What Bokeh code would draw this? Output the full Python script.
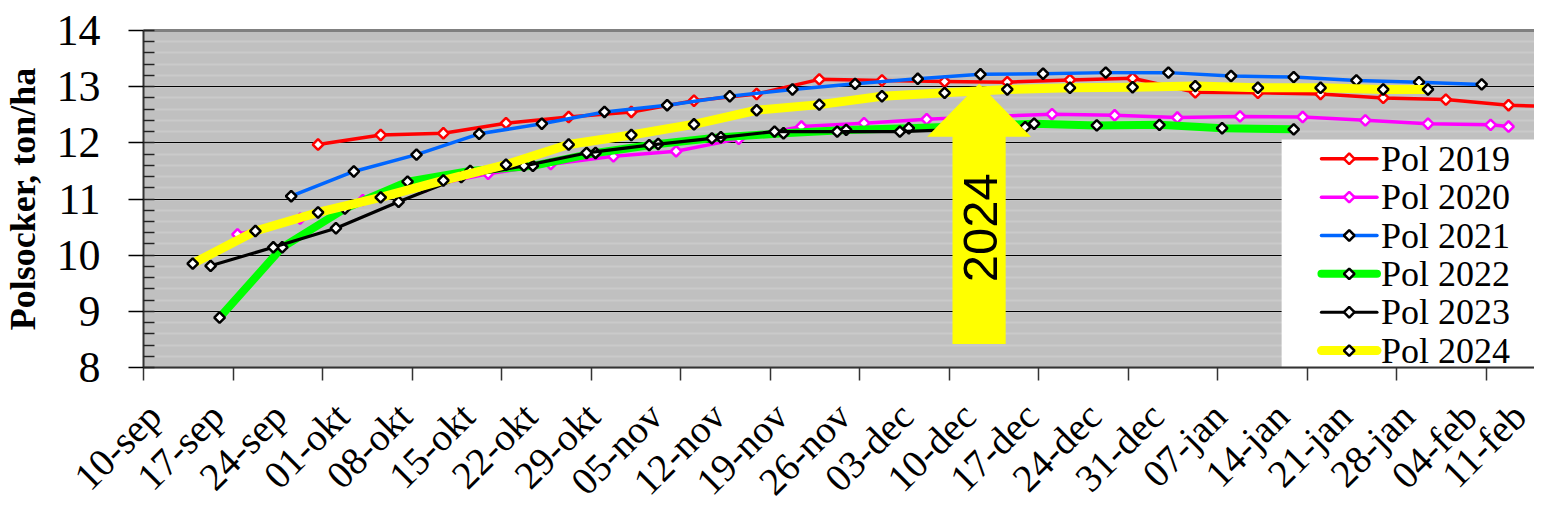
import numpy as np
from bokeh.plotting import figure
from bokeh.models import FixedTicker, SingleIntervalTicker, Range1d
from bokeh.core.properties import value
from bokeh.embed import file_html
from bokeh.resources import INLINE

# ---------------- data (x = days after 10-sep) ----------------
week_labels = ["10-sep", "17-sep", "24-sep", "01-okt", "08-okt", "15-okt", "22-okt", "29-okt",
               "05-nov", "12-nov", "19-nov", "26-nov", "03-dec", "10-dec", "17-dec", "24-dec",
               "31-dec", "07-jan", "14-jan", "21-jan", "28-jan", "04-feb", "11-feb"]
week_days = [0, 7, 14, 21, 28, 35, 42, 49, 56, 63, 70, 77, 84, 91, 98, 105, 112, 119, 126,
             133, 140, 147, 154]
tick_mark_days = [0, 10, 20, 30, 40, 50, 60, 70, 80, 90, 100, 110, 120, 130, 140, 150]

days_2019 = [19.5, 26.5, 33.5, 40.5, 47.5, 54.5, 61.5, 68.5, 75.5, 82.5, 89.5, 96.5, 103.5,
             110.5, 117.5, 124.5, 131.5, 138.5, 145.5, 152.5, 156.5]
pol_2019 = [11.97, 12.14, 12.17, 12.35, 12.46, 12.55, 12.75, 12.87, 13.13, 13.11, 13.09, 13.08,
            13.12, 13.15, 12.90, 12.89, 12.87, 12.80, 12.77, 12.67, 12.65]

days_2020 = [10.5, 17.5, 24.5, 31.5, 38.5, 45.5, 52.5, 59.5, 66.5, 73.5, 80.5, 87.5, 94.5,
             101.5, 108.5, 115.5, 122.5, 129.5, 136.5, 143.5, 150.5, 152.5]
pol_2020 = [10.37, 10.65, 10.98, 11.22, 11.45, 11.62, 11.76, 11.85, 12.07, 12.29, 12.35, 12.42,
            12.47, 12.51, 12.49, 12.45, 12.47, 12.46, 12.40, 12.34, 12.32, 12.29]

days_2021 = [16.5, 23.5, 30.5, 37.5, 44.5, 51.5, 58.5, 65.5, 72.5, 79.5, 86.5, 93.5, 100.5,
             107.5, 114.5, 121.5, 128.5, 135.5, 142.5, 149.5]
pol_2021 = [11.05, 11.49, 11.79, 12.16, 12.34, 12.55, 12.67, 12.83, 12.95, 13.05, 13.14, 13.22,
            13.23, 13.25, 13.25, 13.19, 13.17, 13.11, 13.08, 13.04]

days_2022 = [8.5, 15.5, 22.5, 29.5, 36.5, 43.5, 50.5, 57.5, 64.5, 71.5, 78.5, 85.5, 92.5, 99.5,
             106.5, 113.5, 120.5, 128.5]
pol_2022 = [8.89, 10.14, 10.83, 11.31, 11.50, 11.59, 11.82, 11.98, 12.10, 12.17, 12.23, 12.26,
            12.30, 12.34, 12.31, 12.32, 12.26, 12.24]

days_2023 = [7.5, 14.5, 21.5, 28.5, 35.5, 42.5, 49.5, 56.5, 63.5, 70.5, 77.5, 84.5, 91.5, 98.5]
pol_2023 = [9.81, 10.14, 10.48, 10.95, 11.39, 11.59, 11.82, 11.96, 12.08, 12.20, 12.20, 12.20,
            12.24, 12.28]

days_2024 = [5.5, 12.5, 19.5, 26.5, 33.5, 40.5, 47.5, 54.5, 61.5, 68.5, 75.5, 82.5, 89.5, 96.5,
             103.5, 110.5, 117.5, 124.5, 131.5, 138.5, 143.5]
pol_2024 = [9.85, 10.43, 10.76, 11.03, 11.33, 11.61, 11.97, 12.14, 12.33, 12.58, 12.68, 12.83,
            12.89, 12.95, 12.98, 12.99, 13.01, 12.98, 12.98, 12.95, 12.95]

series_names = ["Pol 2019", "Pol 2020", "Pol 2021", "Pol 2022", "Pol 2023", "Pol 2024"]
series_days = [days_2019, days_2020, days_2021, days_2022, days_2023, days_2024]
series_vals = [pol_2019, pol_2020, pol_2021, pol_2022, pol_2023, pol_2024]
line_colors = ["#FF0000", "#FF00FF", "#0066FF", "#00FF00", "#000000", "#FFFF00"]
line_widths = [3.5, 3.5, 3.5, 8, 3.2, 9]
marker_colors = ["#FF0000", "#FF00FF", "#000000", "#000000", "#000000", "#000000"]

Y_MIN, Y_MAX = 8, 14

# annotation arrow ("2024") in data units
ARROW_X = 93.35
ARROW_TIP = 13.05
ARROW_NECK = 12.11
ARROW_BASE = 8.42
SHAFT_HALF = 2.97
HEAD_HALF = 5.8
ARROW_TEXT_Y = 10.49

# legend block (inside the plot area, data units)
LEG_LEFT = 127.15
LEG_TOP = 12.06
LEG_ROW0 = 11.716
LEG_ROW_STEP = 0.683
LEG_LINE_X0 = 131.6
LEG_LINE_X1 = 137.8
LEG_TEXT_X = 138.25

# layout (pixels): plot area from x=143, y=30 to y=367 on a 1534x506 canvas
W, H = 1534, 506
LEFT, TOP, BOTTOM = 143, 30, 367
X_END = 155.4
DAY_PX = (W - LEFT) / X_END
UNIT_PX = (BOTTOM - TOP) / (Y_MAX - Y_MIN)
LABEL_SHIFT = 1.2   # rotated date labels sit slightly right of their date (as in the original)

SERIF = "Liberation Serif"

p = figure(width=W, height=H, output_backend="svg", toolbar_location=None,
           x_range=Range1d(-LEFT / DAY_PX, X_END),
           y_range=Range1d(Y_MIN - (H - BOTTOM) / UNIT_PX, Y_MAX + TOP / UNIT_PX),
           min_border=0)
p.background_fill_color = "white"
p.border_fill_color = "white"
p.outline_line_color = None

# grey plot area
p.quad(left=[0], right=[X_END], bottom=[Y_MIN], top=[Y_MAX], fill_color="#C0C0C0",
       line_color=None, level="image")

# y axis
yt = SingleIntervalTicker(interval=1, num_minor_ticks=5)
ya = p.yaxis[0]
ya.ticker = yt
ya.fixed_location = 0
ya.bounds = (Y_MIN, Y_MAX)
ya.axis_line_color = "#333333"
ya.axis_line_width = 2
ya.major_tick_out = 15
ya.major_tick_in = 0
ya.major_tick_line_color = "black"
ya.major_tick_line_width = 1.5
ya.minor_tick_in = 11
ya.minor_tick_out = 0
ya.minor_tick_line_color = "#222222"
ya.minor_tick_line_width = 1.5
ya.major_label_text_font = SERIF
ya.major_label_text_font_size = "44px"
ya.major_label_text_color = "black"
ya.major_label_standoff = 28
ya.axis_label = "Polsocker, ton/ha"
ya.axis_label_text_font = SERIF
ya.axis_label_text_font_style = "bold"
ya.axis_label_text_font_size = "36px"
ya.axis_label_text_color = "black"
ya.axis_label_standoff = 11

# x axis: weekly date labels, 10-day tick marks
label_pos = [d + LABEL_SHIFT for d in week_days]
xa = p.xaxis[0]
xa.ticker = FixedTicker(ticks=label_pos, minor_ticks=tick_mark_days)
xa.major_label_overrides = {d: lab for d, lab in zip(label_pos, week_labels)}
xa.fixed_location = Y_MIN
xa.bounds = (0, X_END)
xa.major_label_orientation = np.pi / 4
xa.major_tick_out = 0
xa.major_tick_in = 0
xa.minor_tick_out = 13
xa.minor_tick_in = 0
xa.minor_tick_line_color = "#333333"
xa.minor_tick_line_width = 1.5
xa.axis_line_color = "#333333"
xa.axis_line_width = 2
xa.major_label_text_font = SERIF
xa.major_label_text_font_size = "39px"
xa.major_label_text_color = "black"
xa.major_label_standoff = 29

# grids
p.xgrid.visible = False
p.ygrid.ticker = yt
p.ygrid.bounds = (Y_MIN, Y_MAX)
p.ygrid.cross_bounds = (0, X_END)
p.ygrid.grid_line_color = "black"
p.ygrid.grid_line_width = 1
p.ygrid.minor_grid_line_color = "#CACACA"
p.ygrid.minor_grid_line_width = 2

# grey top border of the plot area
p.segment(x0=[0], y0=[Y_MAX], x1=[X_END], y1=[Y_MAX], line_color="#808080", line_width=3)

# series
for xs, ys, lc, lw, mc in zip(series_days, series_vals, line_colors, line_widths, marker_colors):
    p.line(xs, ys, line_color=lc, line_width=lw, line_join="round", line_cap="round")
    p.scatter(xs, ys, marker="square", angle=np.pi / 4, size=7.5, fill_color="white",
              line_color=mc, line_width=2.5)

# arrow
ax = [ARROW_X, ARROW_X + HEAD_HALF, ARROW_X + SHAFT_HALF, ARROW_X + SHAFT_HALF,
      ARROW_X - SHAFT_HALF, ARROW_X - SHAFT_HALF, ARROW_X - HEAD_HALF]
ay = [ARROW_TIP, ARROW_NECK, ARROW_NECK, ARROW_BASE, ARROW_BASE, ARROW_NECK, ARROW_NECK]
p.patch(ax, ay, fill_color="#FFFF00", line_color=None)
p.text(x=[ARROW_X + 0.2], y=[ARROW_TEXT_Y], text=["2024"], angle=np.pi / 2,
       text_font=value("Liberation Sans"), text_font_size="49px", text_color="black",
       text_align="center", text_baseline="middle")

# legend
rows = [LEG_ROW0 - i * LEG_ROW_STEP for i in range(len(series_names))]
p.quad(left=[LEG_LEFT], right=[X_END], top=[LEG_TOP], bottom=[Y_MIN], fill_color="white",
       line_color=None)
for r, lc, lw in zip(rows, line_colors, line_widths):
    p.segment(x0=[LEG_LINE_X0], y0=[r], x1=[LEG_LINE_X1], y1=[r], line_color=lc,
              line_width=lw, line_cap="round")
p.scatter([(LEG_LINE_X0 + LEG_LINE_X1) / 2] * len(rows), rows, marker="square",
          angle=np.pi / 4, size=7.5, fill_color="white", line_color=marker_colors,
          line_width=2.5)
p.text(x=[LEG_TEXT_X] * len(rows), y=rows, text=series_names, text_align="left",
       text_baseline="middle", text_font=value(SERIF), text_font_size="36px",
       text_color="black")

open("out.html", "w").write(file_html(p, INLINE))
